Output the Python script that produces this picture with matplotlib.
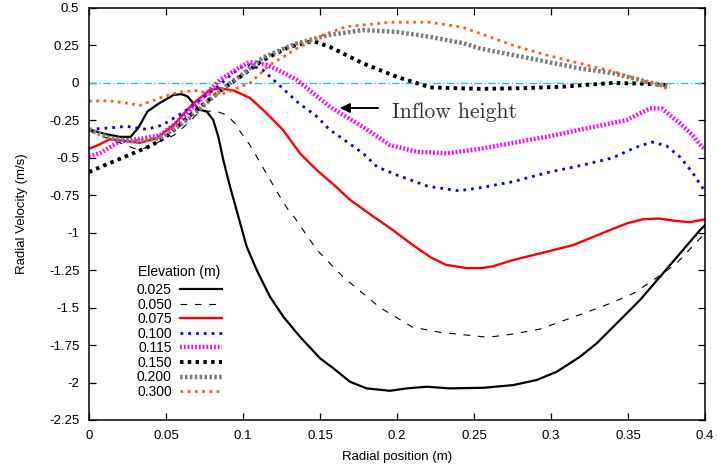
import matplotlib
matplotlib.use("Agg")
import matplotlib.pyplot as plt
from matplotlib.ticker import FixedLocator, FuncFormatter

plt.rcParams['font.family'] = ['Liberation Sans', 'DejaVu Sans']
plt.rcParams['axes.unicode_minus'] = False

# Radial velocity profiles at several elevations
x025 = [0, 0.01, 0.02, 0.027, 0.032, 0.038, 0.045, 0.05, 0.055, 0.06, 0.064, 0.068,
        0.072, 0.0764, 0.0807, 0.084, 0.0872, 0.0916, 0.097, 0.1024, 0.1089, 0.1175,
        0.1262, 0.137, 0.15, 0.1587, 0.1695, 0.1803, 0.1955, 0.2063, 0.2193, 0.2344,
        0.256, 0.2755, 0.2907, 0.3037, 0.3188, 0.3297, 0.3448, 0.3578, 0.3708, 0.3838,
        0.3968, 0.4]
y025 = [-0.31, -0.34, -0.36, -0.36, -0.30, -0.19, -0.14, -0.11, -0.08, -0.075, -0.09,
        -0.14, -0.18, -0.19, -0.248, -0.36, -0.515, -0.693, -0.893, -1.093, -1.249,
        -1.427, -1.561, -1.694, -1.838, -1.905, -1.995, -2.039, -2.055, -2.039, -2.028,
        -2.039, -2.035, -2.017, -1.983, -1.928, -1.828, -1.738, -1.583, -1.449, -1.294,
        -1.138, -0.982, -0.95]

x050 = [0, 0.01, 0.02, 0.03, 0.035, 0.044, 0.055, 0.062, 0.07, 0.076, 0.0818, 0.0894,
        0.0948, 0.099, 0.1045, 0.112, 0.1164, 0.124, 0.1294, 0.1338, 0.148, 0.165, 0.189,
        0.21, 0.228, 0.2593, 0.2755, 0.2929, 0.308, 0.3232, 0.3383, 0.3535, 0.3665,
        0.3816, 0.3978, 0.4]
y050 = [-0.32, -0.36, -0.40, -0.44, -0.44, -0.40, -0.35, -0.29, -0.21, -0.19, -0.186,
        -0.214, -0.27, -0.337, -0.415, -0.548, -0.626, -0.76, -0.848, -0.904, -1.115,
        -1.295, -1.50, -1.63, -1.665, -1.698, -1.676, -1.643, -1.587, -1.531, -1.472,
        -1.405, -1.316, -1.204, -1.027, -1.01]

x075 = [0, 0.007, 0.0136, 0.022, 0.033, 0.044, 0.055, 0.062, 0.068, 0.0786, 0.085,
        0.0937, 0.1045, 0.1154, 0.126, 0.137, 0.1478, 0.159, 0.1695, 0.183, 0.197, 0.21,
        0.222, 0.232, 0.245, 0.255, 0.262, 0.2755, 0.2972, 0.3145, 0.3253, 0.3383, 0.35,
        0.36, 0.37, 0.38, 0.39, 0.4]
y075 = [-0.44, -0.41, -0.375, -0.385, -0.40, -0.37, -0.28, -0.20, -0.135, -0.047,
        -0.036, -0.05, -0.10, -0.203, -0.314, -0.47, -0.581, -0.68, -0.78, -0.88, -0.98,
        -1.08, -1.165, -1.215, -1.236, -1.236, -1.225, -1.182, -1.127, -1.082, -1.037,
        -0.982, -0.935, -0.91, -0.905, -0.92, -0.93, -0.91]

x100 = [0, 0.0136, 0.0245, 0.0376, 0.048, 0.0636, 0.0805, 0.0935, 0.1, 0.1045, 0.113,
        0.122, 0.135, 0.148, 0.156, 0.178, 0.187, 0.2, 0.22, 0.24, 0.254, 0.275, 0.297,
        0.32, 0.34, 0.355, 0.3656, 0.375, 0.3838, 0.392, 0.398, 0.4]
y100 = [-0.31, -0.30, -0.29, -0.31, -0.28, -0.18, -0.05, 0.065, 0.11, 0.12, 0.085, 0.0,
        -0.125, -0.225, -0.31, -0.47, -0.56, -0.615, -0.69, -0.72, -0.70, -0.66, -0.60,
        -0.55, -0.50, -0.43, -0.395, -0.42, -0.495, -0.6, -0.695, -0.72]

x115 = [0, 0.007, 0.02, 0.035, 0.046, 0.059, 0.072, 0.085, 0.098, 0.1045, 0.1155,
        0.125, 0.135, 0.1565, 0.178, 0.1955, 0.213, 0.2325, 0.254, 0.27, 0.286, 0.297,
        0.32, 0.349, 0.3643, 0.3718, 0.3838, 0.392, 0.398, 0.4]
y115 = [-0.49, -0.47, -0.39, -0.37, -0.35, -0.25, -0.115, 0.02, 0.105, 0.14, 0.12,
        0.075, 0.02, -0.16, -0.295, -0.415, -0.46, -0.47, -0.44, -0.41, -0.38, -0.36,
        -0.31, -0.248, -0.17, -0.17, -0.27, -0.35, -0.426, -0.44]

x150 = [0, 0.01, 0.0286, 0.04, 0.05, 0.0675, 0.083, 0.0916, 0.098, 0.113, 0.13, 0.1455,
        0.1565, 0.178, 0.2, 0.2215, 0.254, 0.282, 0.308, 0.34, 0.36, 0.375]
y150 = [-0.595, -0.55, -0.47, -0.42, -0.36, -0.20, -0.07, -0.005, 0.04, 0.153, 0.24,
        0.28, 0.24, 0.13, 0.04, -0.03, -0.04, -0.035, -0.025, 0.0, -0.005, -0.015]

x200 = [0, 0.0136, 0.0286, 0.046, 0.0636, 0.0805, 0.0916, 0.098, 0.113, 0.135, 0.156,
        0.178, 0.2, 0.22, 0.243, 0.254, 0.2755, 0.297, 0.3188, 0.3405, 0.3665, 0.3773]
y200 = [-0.31, -0.37, -0.39, -0.37, -0.25, -0.095, 0.0, 0.045, 0.17, 0.265, 0.32, 0.353,
        0.34, 0.31, 0.265, 0.23, 0.186, 0.142, 0.097, 0.064, -0.003, -0.025]

x300 = [0, 0.0136, 0.0245, 0.033, 0.046, 0.059, 0.072, 0.0764, 0.085, 0.0916, 0.1045,
        0.1175, 0.135, 0.152, 0.167, 0.1955, 0.2215, 0.243, 0.254, 0.2755, 0.297, 0.3188,
        0.3405, 0.362, 0.375]
y300 = [-0.12, -0.12, -0.135, -0.15, -0.10, -0.06, -0.05, -0.075, -0.08, -0.055, 0.0,
        0.12, 0.23, 0.32, 0.375, 0.405, 0.405, 0.37, 0.33, 0.25, 0.186, 0.13, 0.075,
        0.008, -0.036]

labels = ['0.025', '0.050', '0.075', '0.100', '0.115', '0.150', '0.200', '0.300']
xticks = [0, 0.05, 0.1, 0.15, 0.2, 0.25, 0.3, 0.35, 0.4]
yticks = [0.5, 0.25, 0, -0.25, -0.5, -0.75, -1, -1.25, -1.5, -1.75, -2, -2.25]

fig = plt.figure(figsize=(7.17, 4.75), dpi=100)
ax = fig.add_axes([89 / 717, 1 - 420 / 475, (705 - 89) / 717, (420 - 8) / 475])

# zero reference line
ax.axhline(0, color='#00d0d0', lw=0.9, dashes=(6, 2, 1, 2))

styles = [
    dict(color='black', lw=1.6),
    dict(color='black', lw=0.8, dashes=(6, 7)),
    dict(color='#ff0000', lw=1.7),
    dict(color='#0000ff', lw=2.0, dashes=(1.0, 1.8), dash_capstyle='butt'),
    dict(color='#ff00ff', lw=3.2, dashes=(0.4, 0.45), dash_capstyle='butt'),
    dict(color='black', lw=2.8, dashes=(0.9, 1.1), dash_capstyle='butt'),
    dict(color='#808080', lw=3.2, dashes=(0.6, 0.5), dash_capstyle='butt'),
    dict(color='#ff5a1a', lw=2.0, dashes=(1.0, 1.6), dash_capstyle='butt'),
]
series = [(x025, y025), (x050, y050), (x075, y075), (x100, y100),
          (x115, y115), (x150, y150), (x200, y200), (x300, y300)]

handles = []
for (xs, ys), lab, st in zip(series, labels, styles):
    h, = ax.plot(xs, ys, label=lab, **st)
    handles.append(h)

ax.set_xlim(0, 0.4)
ax.set_ylim(-2.25, 0.5)
ax.xaxis.set_major_locator(FixedLocator(xticks))
ax.yaxis.set_major_locator(FixedLocator(yticks))
fmt = FuncFormatter(lambda v, p: '%g' % v)
ax.xaxis.set_major_formatter(fmt)
ax.yaxis.set_major_formatter(fmt)
ax.tick_params(direction='in', length=5, width=0.9, top=True, right=True,
               labelsize=9.5, pad=7)
for s in ax.spines.values():
    s.set_linewidth(1.1)

ax.set_xlabel('Radial position (m)', fontsize=9.5, labelpad=7)
ax.set_ylabel('Radial Velocity (m/s)', fontsize=9.5, labelpad=15)

leg = ax.legend(handles=handles, title='Elevation (m)', markerfirst=False,
                frameon=False, fontsize=10, title_fontsize=10, handlelength=3.0,
                handletextpad=0.6, labelspacing=0.04, borderpad=0,
                loc='upper left', bbox_to_anchor=(130 / 717, 1 - 258 / 475),
                bbox_transform=fig.transFigure)
leg._legend_box.sep = 3

ax.annotate('', xy=(0.163, -0.1676), xytext=(0.1877, -0.1676),
            arrowprops=dict(arrowstyle='-|>', lw=1.4, color='black',
                            mutation_scale=14, shrinkA=0, shrinkB=0))
ax.text(0.197, -0.195, 'Inflow height', family='cmr10', fontsize=15.5,
        color='#333333', va='center', ha='left')

fig.savefig('out.png', dpi=100)
